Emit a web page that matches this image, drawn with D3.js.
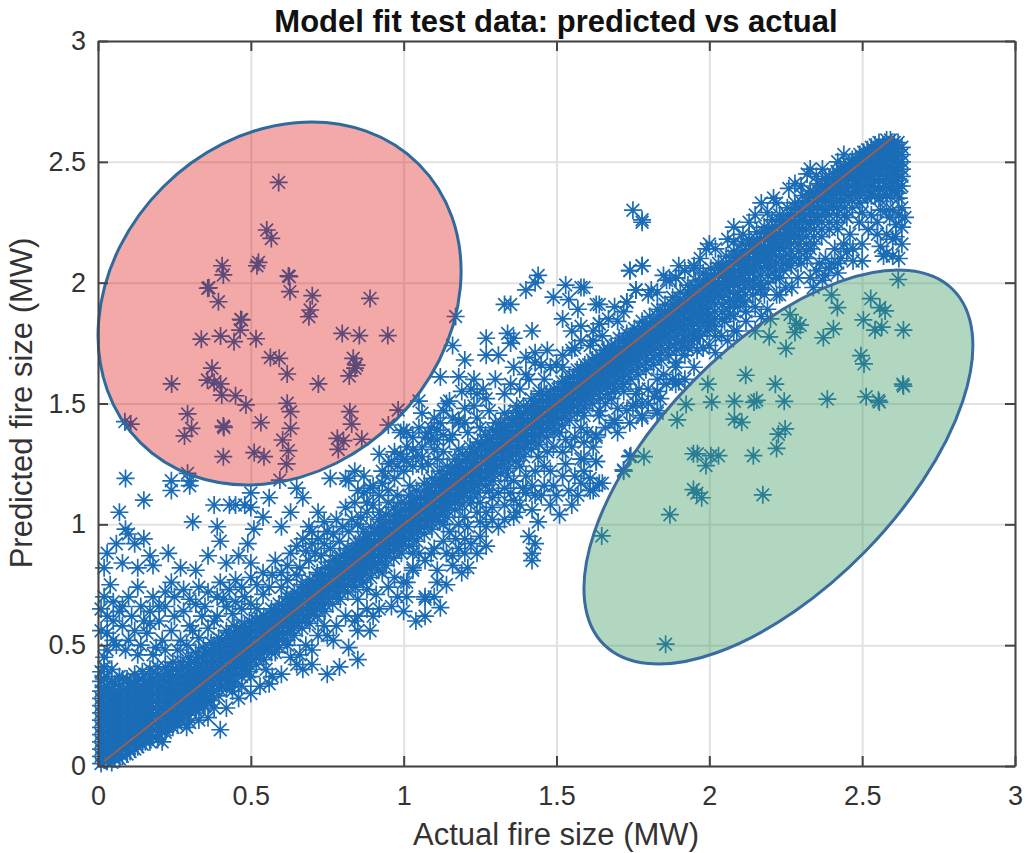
<!DOCTYPE html>
<html>
<head>
<meta charset="utf-8">
<script src="https://cdn.jsdelivr.net/npm/d3@7"></script>
<style>
    body { margin: 0; background: #fff; }
    text { font-family: "Liberation Sans", Arial, sans-serif; }
</style>
</head>
<body>
<svg width="1029" height="853"></svg>
<script>
let tick_values = [0, 0.5, 1, 1.5, 2, 2.5, 3]
let title_text = 'Model fit test data: predicted vs actual'
let x_label_text = 'Actual fire size (MW)'
let y_label_text = 'Predicted fire size (MW)'
let fit_line = [0.02, 2.6]

// [actual, predicted]
let red_zone_points = [[.591,2.415],[.552,2.218],[.567,2.183],[.406,2.07],[.41,2.032],[.525,2.084],[.52,2.07],[.623,2.028],[.626,2.025],[.628,1.963],[.359,1.977],[.363,1.979],[.394,1.921],[.701,1.946],[.694,1.887],[.69,1.859],[.89,1.935],[.467,1.848],[.47,1.846],[.465,1.804],[.338,1.766],[.401,1.779],[.445,1.756],[.517,1.768],[.799,1.79],[.855,1.781],[.948,1.781],[.564,1.69],[.593,1.687],[.619,1.622],[.835,1.687],[.846,1.659],[.841,1.646],[.822,1.614],[.721,1.581],[.241,1.581],[.373,1.646],[.358,1.597],[.38,1.586],[.401,1.581],[.405,1.535],[.45,1.532],[.484,1.494],[.619,1.501],[.63,1.466],[.293,1.457],[.306,1.397],[.283,1.366],[.41,1.407],[.412,1.401],[.533,1.421],[.63,1.397],[.604,1.349],[.623,1.305],[.617,1.25],[.41,1.28],[.511,1.297],[.543,1.28],[.824,1.466],[.83,1.415],[.783,1.356],[.803,1.346],[.786,1.31],[.863,1.352],[.107,1.415],[.088,1.425],[.982,1.473],[.95,1.411],[.293,1.211],[.595,1.183]]

let green_zone_points = [[2.618,2.013],[2.528,1.934],[2.558,1.897],[2.575,1.883],[2.4,1.949],[2.419,1.897],[2.504,1.846],[2.542,1.804],[2.564,1.816],[2.635,1.804],[2.406,1.809],[2.373,1.772],[2.284,1.831],[2.297,1.824],[2.28,1.794],[2.264,1.868],[2.196,1.776],[2.251,1.728],[2.496,1.698],[2.506,1.664],[2.119,1.617],[2.216,1.58],[1.995,1.58],[2.008,1.506],[1.924,1.496],[2.082,1.509],[2.155,1.513],[2.146,1.506],[2.245,1.509],[2.386,1.518],[2.513,1.528],[2.553,1.513],[2.556,1.506],[2.633,1.58],[2.635,1.572],[1.895,1.432],[2.082,1.435],[2.106,1.422],[2.248,1.395],[2.226,1.373],[2.22,1.314],[1.948,1.292],[1.961,1.292],[1.989,1.243],[2.005,1.284],[2.03,1.284],[2.144,1.284],[1.786,1.28],[1.743,1.284],[1.719,1.225],[1.948,1.144],[1.959,1.129],[1.975,1.11],[2.175,1.122],[1.871,1.04],[1.648,.952],[1.857,.504]]

let upper_points = [[.09,1.19],[.24,1.18],[.24,1.14],[.3,1.18],[.3,1.16],[.15,1.1],[.38,1.08],[.43,1.08],[.45,1.08],[.48,1.08],[.5,1.07],[.5,1.13],[.56,1.11],[.65,1.15],[.67,1.11],[.76,1.19],[.81,1.19],[.84,1.22],[.87,1.2],[.87,1.13],[.88,1.09],[.81,1.07],[.92,1.29],[.96,1.26],[.99,1.38],[1.06,1.46],[.07,1.05],[.09,.98],[.1,.96],[.31,1.01],[.39,.99],[.51,.98],[.54,1.03],[.63,1.05],[.6,.99],[.72,1.05],[.74,1.01],[.69,.99],[.67,.94],[.72,.94],[.65,.91],[.4,.93],[.49,.92],[.46,.87],[.06,.92],[.15,.94],[.12,.92],[.03,.88],[.17,.87],[.02,.82],[.08,.84],[.13,.82],[.18,.83],[.23,.88],[.36,.87],[.42,.84],[.32,.81],[.27,.82],[.4,.76],[.5,.84],[.58,.85],[.54,.8],[.62,.83],[.65,.79],[.24,.76],[.28,.73],[.22,.72],[.33,.74],[.45,.77],[.54,.71],[.41,.69],[.48,.7],[.05,.68],[.07,.64],[.01,.65],[.17,.64],[.2,.6],[.15,.6],[.24,.56],[.08,.58],[.01,.56],[.19,.49],[.16,.55],[.1,.52],[.3,.58],[.34,.62],[.39,.62],[.44,.63],[.27,.52],[.02,.45],[.25,.7],[.3,.69],[.35,.66],[.06,.5],[.13,.46],[.22,.48],
    [1.44,2.03],[1.4,1.97],[1.43,2],[1.33,1.91],[1.35,1.91],[1.53,1.99],[1.58,1.98],[1.49,1.94],[1.57,1.89],[1.54,1.93],[1.63,1.91],[1.52,1.85],[1.55,1.8],[1.73,1.92],[1.76,1.97],[1.74,2.05],[1.78,2.07],[1.86,2.01],[1.89,2.02],[1.95,2.06],[1.64,1.83],[1.27,1.77],[1.34,1.79],[1.36,1.77],[1.42,1.8],[1.35,1.75],[1.17,1.86],[1.16,1.74],[1.27,1.7],[1.31,1.7],[1.2,1.68],[1.12,1.61],[1.18,1.61],[1.23,1.6],[1.36,1.65],[1.4,1.69],[1.43,1.67],[1.47,1.72],[1.48,1.65],[1.41,1.6],[1.56,1.73],[1.61,1.74],[1.52,1.65],[1.24,1.54],[1.15,1.51],[1.05,1.51],[1.13,1.47],[1.18,1.43],[1.24,1.44],[1.28,1.47],[1.37,1.49],[1.01,1.38],[1.08,1.38],[1.11,1.35],[1.05,1.4],[1,1.27],[1.03,1.24],[1.11,1.27],[1.18,1.31],[1.02,1.16],[1.09,1.4],[1.15,1.35],
    [1.14,1.5],[1.18,1.42],[1,1.39],[1.11,1.39],[1.09,1.35],[.99,1.29],[1.06,1.32],[.95,1.25],[.82,1.18],[.9,1.16],[.94,1.2],[1.06,1.24],
    [1.75,2.3],[1.78,2.25],[1.78,2.26],[2.32,2.45],[2.28,2.41],[2.21,2.35],[2.15,2.28],[2.19,2.29],[1.99,2.14],[1.95,2.07],[1.87,2.01],[1.89,2.02],[1.74,2.05],[1.78,2.07],[1.76,1.97],[1.73,1.92],[1.64,1.91],[1.59,1.98],[1.64,1.83],[2.11,2.2],[2.42,2.5],[2.08,2.17],[2.44,2.53],
    [.03,.48],[.05,.52],[.03,.55],[.05,.6],[.09,.48],[.12,.56],[.18,.46],[.21,.52],[.14,.5],[.17,.59],[.11,.62],[.03,.62],[.08,.66],[.14,.66],[.2,.66],[.18,.7],[.26,.48],[.29,.5],[.33,.53],[.31,.56],[.36,.57],[.38,.6],[.42,.66],[.45,.68],[.47,.65],[.5,.67],[.52,.65],[.56,.74],[.6,.74],[.62,.77],[.66,.82],[.69,.85],[.71,.88],[.74,.92],[.77,.96],[.8,.99],[.83,1.02],[.86,1.03],[.9,1.08],[.76,.9],[.7,.92],[.78,1.02],[.84,1.09],[.92,1.12],[.95,1.14],[.97,1.19],[1,1.22],[.93,1.22],[.97,1.3],[1.01,1.32],[1.04,1.28],[1.08,1.25],[1.13,1.3],[1.16,1.37],[1.21,1.38],[1.25,1.4],[1.3,1.42],[1.33,1.46],[1.2,1.48],[1.1,1.44],[1.26,1.56],[1.3,1.6],[1.38,1.56],[1.46,1.6],[1.5,1.66],[1.45,1.55],[1.58,1.82],[1.62,1.76],[1.65,1.78],[1.7,1.84],[1.72,1.88],[1.83,1.96],[1.81,1.97],[1.92,2.05],[1.97,2.1],[2.02,2.14],[2.06,2.18],[2.13,2.25],[2.22,2.33],[2.3,2.4],[2.35,2.44],[2.37,2.47],
    [.1,.7],[.13,.74],[.04,.75],[.02,.7],[.25,.62],[.22,.66],[.28,.64],[.32,.67],[.36,.72],[.39,.7],[.43,.73],[.47,.74],[.5,.78],[.52,.75],[.57,.79],[.6,.8],[.63,.88],[.68,.89],[.7,.97],[.75,.97],[.73,.87],[.79,.93],[.82,.97],[.85,1],[.88,1.05],[.92,1.05],[.95,1.09],[.98,1.12],[.89,1.15],[.85,1.14],[.93,1.17],[.98,1.24],[1.01,1.26],[1.03,1.31],[1.06,1.28],[1.1,1.31],[1.13,1.37],[1.07,1.36],[1.03,1.36],[1.12,1.42],[1.16,1.44],[1.2,1.42],[1.23,1.49],[1.27,1.52],[1.19,1.55],[1.22,1.56],[1.33,1.54],[1.35,1.58],[1.4,1.62],[1.45,1.66],[1.43,1.71],[1.52,1.7],[1.55,1.72],[1.58,1.76],[1.62,1.8],[1.67,1.85],[1.69,1.9],[1.8,1.95],[1.85,2.03],[1.9,2.07],[2,2.16],[2.08,2.23],[2.17,2.33],[2.26,2.39],[2.33,2.47]]

let lower_points = [[.4,.15],[.38,.24],[.33,.19],[.26,.17],[.29,.16],[.21,.1],[.35,.25],[.44,.31],[.47,.33],[.53,.33],[.56,.34],[.6,.38],[.67,.4],[.7,.42],[.75,.38],[.79,.41],[.85,.44],[.82,.49],[.58,.47],[.63,.45],[.68,.5],[.75,.54],[.74,.58],[.85,.56],[.89,.56],[.92,.65],[.88,.65],[.81,.62],[.85,.69],[1,.64],[1.04,.6],[1.07,.69],[1.01,.7],[1.01,.76],[1.03,.82],[.91,.71],
    [1.12,.655],[1.07,.7],[1.11,.76],[1.11,.81],[1.03,.81],[1,.76],[1.19,.8],[1.21,.82],[1.16,.87],[1.27,.91],[1.31,.99],[1.27,1.05],[1.22,1.09],[1.36,1.03],[1.44,1.01],[1.41,.95],[1.43,.92],[1.42,.88],[1.42,.85],[1.38,1.08],[1.48,1.08],[1.51,1.04],[1.55,1.08],[1.54,1.14],[1.61,1.14],[1.64,1.17],[1.63,1.26],[1.58,1.27],[1.72,1.22],[1.74,1.28],[1.63,1.36],[1.83,1.47],[1.78,1.44],[1.69,1.42],[1.75,1.49],[1.64,1.47],[1.59,1.45],[1.51,1.38],[1.4,1.13],[1.28,1.14],[1.34,1.2],[1.4,1.2],[1.46,1.24],[1.53,1.25],[1.49,1.16],[1.09,.88],[1.21,.99],[1.25,.95],[1.13,1],[1.17,.94],[1.05,.88],[1.29,1.07],[1.55,1.32],[1.69,1.56],[1.77,1.56],[1.89,1.58],[1.91,1.74],[1.89,1.67],[1.95,1.78],
    [2.63,2.31],[2.61,2.24],[2.63,2.23],[2.61,2.19],[2.63,2.16],[2.62,2.1],[2.57,2.11],[2.6,2.11],[2.59,2.27],[2.58,2.3],[2.52,2.22],[2.5,2.29],[2.5,2.16],[2.5,2.09],[2.45,2.13],[2.44,2.16],[2.38,2.1],[2.42,2.08],[2.41,2.14],[2.36,2.08],[2.45,2.27],[2.34,1.98],[2.37,2.01],[2.42,2.04],[2.33,2.14],[2.29,2.16],[2.27,2.1],[2.22,2.08],[2.23,2.02],[2.27,1.98],[2.19,2.07],[2.1,1.93],[2.12,1.88],[2.19,1.89],[2.09,1.8],[2.15,1.8],[2.06,1.76],[1.95,1.77],[1.98,1.73],[1.93,1.73],[2.02,1.71],[1.89,1.65],[1.9,1.59],[1.95,1.65],[1.83,1.55],[1.83,1.46],[1.78,1.45],[1.76,1.54],[1.69,1.43],[1.64,1.45],[1.63,1.37],[1.72,1.55],[1.58,1.4],[1.59,1.27],[1.63,1.26],[1.62,1.14],[1.65,1.17],[1.61,1.19],[1.8,1.56],
    [1.1,.9],[1.13,.93],[1.15,.97],[1.18,1],[1.2,1.03],[1.24,1.05],[1.25,1.09],[1.29,1.11],[1.31,1.13],[1.33,1.08],[1.33,1.15],[1.36,1.18],[1.38,1.24],[1.42,1.16],[1.43,1.22],[1.44,1.28],[1.47,1.3],[1.49,1.32],[1.52,1.2],[1.56,1.2],[1.56,1.36],[1.59,1.34],[1.45,1.12],[1.36,1.1],[1.03,.88],[1.07,.85],[1.16,.83],[.97,.78],[.95,.74],[.93,.8],[.88,.73],[.85,.62],[.78,.58],[.72,.54],[.66,.46],[.62,.5],[.55,.4],[.5,.37],[.42,.24],[.32,.24],[.22,.15],[.27,.2],
    [1.66,1.5],[1.7,1.48],[1.73,1.47],[1.76,1.5],[1.8,1.5],[1.84,1.52],[1.68,1.52],[1.72,1.58],[1.85,1.62],[1.83,1.6],[1.92,1.7],[1.97,1.78],[2,1.82],[2.02,1.78],[2.05,1.84],[2.08,1.86],[2.15,1.9],[2.18,1.95],[2.22,1.95],[2.25,1.98],[2.17,1.98],[2.13,2],[2.1,2],[2,1.86],[1.98,1.9],[1.96,1.86],[2.08,1.92],[2.25,2.08],[2.3,2.08],[2.32,2.1],[2.35,2.05],[2.39,2.06],[2.43,2.1],[2.46,2.2],[2.42,2.22],[2.55,2.2],[2.58,2.2],[2.56,2.15],[2.6,2.3],[2.62,2.28],[2.55,2.25],[2.47,2.09],
    [1.14,.88],[1.18,.9],[1.2,.94],[1.22,.92],[1.24,.88],[1.27,.99],[1.29,1.02],[1.25,1.01],[1.33,1.02],[1.37,1.05],[1.39,1.15],[1.35,1.13],[1.42,1.06],[1.43,1.12],[1.46,1.16],[1.48,1.22],[1.5,1.12],[1.52,1.3],[1.57,1.12],[1.58,1.17],[1.59,1.22],[1.53,1.35],[1.6,1.38],[1.62,1.32],[1.66,1.4],[1.7,1.38],[1.74,1.42],[1.78,1.5],[1.82,1.53],[1.86,1.58],[1.88,1.6],[1.92,1.6],[1.96,1.72],[2,1.74],[2.04,1.78],[2.08,1.8],[2.12,1.84],[2.17,1.86],[2.2,1.85],[2.23,1.95],[2.29,2.02],[2.33,2.02],[2.38,2.03],[2.4,2.08],[2.47,2.14],[2.49,2.25],[2.53,2.28],[2.56,2.3],[2.6,2.18],[2.58,2.12],[2.64,2.27],[2.62,2.35],[1.07,.62],[1.1,.7],[1.14,.75],[1.2,.88],[.98,.7],[.96,.66],[.9,.62],[.84,.6],[.77,.52],[.7,.48],[.65,.42],[.57,.37],[.5,.3],[.46,.28],[.36,.2],[.3,.18]]

// dense part along the diagonal: one actual value, the predicted values seen above it
let band_actual = [.01,.03,.055,.08,.105,.13,.155,.18,.205,.23,.255,.28,.305,.33,.355,.38,.405,.43,.455,.48,.505,.53,.555,.58,.605,.63,.655,.68,.705,.73,.755,.78,.805,.83,.855,.88,.905,.93,.955,.98,1.005,1.03,1.055,1.08,1.105,1.13,1.155,1.18,1.205,1.23,1.255,1.28,1.305,1.33,1.355,1.38,1.405,1.43,1.455,1.48,1.505,1.53,1.555,1.58,1.605,1.63,1.655,1.68,1.705,1.73,1.755,1.78,1.805,1.83,1.855,1.88,1.905,1.93,1.955,1.98,2.005,2.03,2.055,2.08,2.105,2.13,2.155,2.18,2.205,2.23,2.255,2.28,2.305,2.33,2.355,2.38,2.405,2.43,2.455,2.48,2.505,2.53,2.555,2.58,2.605,2.63]
let band_predicted = [
    [.01,.04,.07,.1,.13,.16,.19,.22,.25,.28,.31,.35,.39],[.02,.05,.08,.11,.14,.17,.2,.23,.26,.29,.33,.37],[.03,.06,.09,.12,.15,.18,.21,.24,.27,.3,.34],[.04,.07,.1,.13,.16,.19,.22,.25,.28,.31,.36],[.06,.09,.12,.15,.18,.21,.24,.27,.3,.34],[.08,.11,.14,.17,.2,.23,.26,.29,.32,.35],[.1,.13,.16,.19,.22,.25,.28,.31,.34],[.12,.15,.18,.21,.24,.27,.3,.33,.36],[.15,.18,.21,.24,.27,.3,.33,.37],[.17,.2,.23,.26,.29,.32,.35,.38],[.19,.22,.25,.28,.31,.34,.37,.4],[.22,.25,.28,.31,.34,.37,.41],[.24,.27,.3,.33,.36,.39,.43],[.26,.29,.32,.35,.38,.41,.45],[.28,.31,.34,.37,.4,.43,.47],[.31,.34,.37,.4,.43,.46,.5],[.33,.36,.39,.42,.45,.48,.52],[.35,.38,.41,.44,.47,.5,.53],[.38,.41,.44,.47,.5,.53,.56],[.4,.43,.46,.49,.52,.55,.58],[.44,.47,.5,.53,.56,.59],
    [.47,.5,.53,.56,.59,.61],[.49,.52,.55,.58,.61],[.52,.55,.58,.61,.64],[.54,.57,.6,.63,.66],[.57,.6,.63,.66,.69],[.59,.62,.65,.68,.71],[.62,.65,.68,.71,.74],[.64,.67,.7,.73,.76],[.67,.7,.73,.76,.79],[.69,.72,.75,.78,.82],[.72,.75,.78,.81,.85],[.74,.77,.8,.83,.87],[.77,.8,.83,.86,.89],[.79,.82,.85,.88,.92],[.82,.85,.88,.91,.94],[.84,.87,.9,.93,.97],[.87,.9,.93,.96,.99],[.89,.92,.95,.98,1.01],[.92,.95,.98,1.01,1.04],[.94,.97,1,1.03,1.06],[.97,1,1.03,1.06,1.09],[.99,1.02,1.05,1.08,1.11],[1.02,1.05,1.08,1.11,1.14],[1.04,1.07,1.1,1.13,1.17],[1.07,1.1,1.13,1.16,1.19],[1.09,1.12,1.15,1.18,1.22],[1.12,1.15,1.18,1.21,1.24],[1.14,1.17,1.2,1.23,1.27],[1.17,1.2,1.23,1.26,1.3],[1.19,1.22,1.25,1.28,1.33],[1.22,1.25,1.28,1.31,1.35],[1.24,1.27,1.3,1.33,1.38],[1.27,1.3,1.33,1.36,1.4],[1.29,1.32,1.35,1.38,1.43],[1.32,1.35,1.38,1.41,1.45],[1.34,1.37,1.4,1.43,1.47],[1.37,1.4,1.43,1.46,1.49],[1.39,1.42,1.45,1.48,1.51],[1.42,1.45,1.48,1.51,1.54],[1.44,1.47,1.5,1.53,1.56],[1.47,1.5,1.53,1.56,1.59],[1.49,1.52,1.55,1.58,1.61],[1.52,1.55,1.58,1.61,1.64],[1.54,1.57,1.6,1.63,1.66],[1.57,1.6,1.63,1.66,1.69],[1.59,1.62,1.65,1.68,1.72],[1.62,1.65,1.68,1.71,1.74],[1.64,1.67,1.7,1.73,1.77],[1.67,1.7,1.73,1.76,1.79],[1.69,1.72,1.75,1.78,1.81],[1.72,1.75,1.78,1.81,1.84],[1.74,1.77,1.8,1.83,1.86],[1.76,1.79,1.83,1.86,1.89],[1.78,1.82,1.85,1.88,1.91],[1.81,1.84,1.88,1.91,1.94],[1.83,1.87,1.9,1.93,1.96],[1.85,1.89,1.93,1.96,1.99],[1.88,1.92,1.95,1.98,2.01],[1.9,1.94,1.98,2.01,2.04],[1.93,1.97,2,2.03,2.06],[1.95,1.99,2.03,2.06,2.08],[1.98,2.02,2.05,2.08,2.11],[2,2.04,2.08,2.11,2.13],[2.03,2.07,2.1,2.13,2.16],[2.05,2.09,2.13,2.16,2.18],[2.08,2.12,2.15,2.18,2.21],[2.1,2.14,2.18,2.21,2.23],[2.13,2.17,2.2,2.23,2.26],[2.15,2.19,2.23,2.26,2.28],[2.18,2.22,2.25,2.28,2.31],[2.2,2.24,2.28,2.31,2.33],[2.22,2.26,2.3,2.33,2.36],[2.25,2.29,2.33,2.36,2.38],[2.27,2.31,2.35,2.38,2.41],[2.3,2.34,2.37,2.4,2.43],[2.32,2.36,2.39,2.42,2.45],[2.34,2.38,2.41,2.44,2.47],[2.36,2.4,2.43,2.46,2.49],[2.38,2.42,2.45,2.48,2.51],[2.4,2.43,2.46,2.49,2.52,2.54],[2.36,2.4,2.44,2.47,2.5,2.53,2.56],[2.35,2.39,2.43,2.47,2.5,2.53,2.56,2.58],[2.36,2.4,2.44,2.47,2.5,2.53,2.56,2.59],[2.38,2.42,2.46,2.5,2.53,2.56,2.58],[2.4,2.44,2.47,2.5,2.53,2.56]
]

// same band, the points sitting between those columns and out to its edges
let band_between_actual = [.02,.045,.07,.095,.12,.145,.17,.195,.22,.245,.27,.295,.32,.345,.37,.395,.42,.445,.47,.495,.5175,.5425,.5675,.5925,.6175,.6425,.6675,.6925,.7175,.7425,.7675,.7925,.8175,.8425,.8675,.8925,.9175,.9425,.9675,.9925,1.0175,1.0425,1.0675,1.0925,1.1175,1.1425,1.1675,1.1925,1.2175,1.2425,1.2675,1.2925,1.3175,1.3425,1.3675,1.3925,1.4175,1.4425,1.4675,1.4925,1.5175,1.5425,1.5675,1.5925,1.6175,1.6425,1.6675,1.6925,1.7175,1.7425,1.7675,1.7925,1.8175,1.8425,1.8675,1.8925,1.9175,1.9425,1.9675,1.9925,2.0175,2.0425,2.0675,2.0925,2.1175,2.1425,2.1675,2.1925,2.2175,2.2425,2.2675,2.2925,2.3175,2.3425,2.3675,2.3925,2.4175,2.4425,2.4675,2.4925,2.5175,2.5425,2.5675,2.5925,2.6175]
let band_between_predicted = [
    [.025,.055,.085,.115,.145,.175,.205,.235,.265,.295,.325,.36,.41],[.015,.045,.075,.105,.135,.165,.195,.225,.255,.285,.315,.35,.4],[.03,.06,.09,.12,.15,.18,.21,.24,.27,.3,.33,.37],[.05,.08,.11,.14,.17,.2,.23,.26,.29,.32,.36],[.07,.1,.13,.16,.19,.22,.25,.28,.31,.34,.38],[.09,.12,.15,.18,.21,.24,.27,.3,.33,.36,.39],[.1,.13,.16,.19,.22,.25,.28,.31,.34,.37,.4],[.11,.14,.17,.2,.23,.26,.29,.32,.35,.38,.41],[.14,.17,.2,.23,.26,.29,.32,.35,.38,.41],[.16,.19,.22,.25,.28,.31,.34,.37,.4,.43],[.19,.22,.25,.28,.31,.34,.37,.4,.43],[.21,.24,.27,.3,.33,.36,.39,.42,.45],[.23,.26,.29,.32,.35,.38,.41,.44,.47],[.25,.28,.31,.34,.37,.4,.43,.46,.49],[.27,.3,.33,.36,.39,.42,.45,.48,.51],[.29,.32,.35,.38,.41,.44,.47,.5,.53],[.32,.35,.38,.41,.44,.47,.5,.53,.56],[.34,.37,.4,.43,.46,.49,.52,.55,.58],[.37,.4,.43,.46,.49,.52,.55,.58],[.39,.42,.45,.48,.51,.54,.57,.6],
    [.42,.45,.48,.51,.54,.57,.6],[.44,.47,.5,.53,.56,.59,.62],[.47,.5,.53,.56,.59,.62,.65],[.49,.52,.55,.58,.61,.64,.67],[.52,.55,.58,.61,.64,.67,.7],[.54,.57,.6,.63,.66,.69,.72],[.57,.6,.63,.66,.69,.72,.75],[.59,.62,.65,.68,.71,.74,.77],[.62,.65,.68,.71,.74,.77,.8],[.64,.67,.7,.73,.76,.79,.82],[.67,.7,.73,.76,.79,.82,.85],[.69,.72,.75,.78,.81,.84,.87],[.72,.75,.78,.81,.84,.87,.9],[.74,.77,.8,.83,.86,.89,.92],[.76,.79,.82,.85,.88,.91,.94,.97],[.78,.81,.84,.87,.9,.93,.96,.99],[.81,.84,.87,.9,.93,.96,.99,1.02],[.83,.86,.89,.92,.95,.98,1.01,1.04],[.86,.89,.92,.95,.98,1.01,1.04,1.07],[.88,.91,.94,.97,1,1.03,1.06,1.09],[.91,.94,.97,1,1.03,1.06,1.09,1.12],[.93,.96,.99,1.02,1.05,1.08,1.11,1.14],[.96,.99,1.02,1.05,1.08,1.11,1.14,1.17],[.98,1.01,1.04,1.07,1.1,1.13,1.16,1.19],[1.01,1.04,1.07,1.1,1.13,1.16,1.19,1.22],[1.03,1.06,1.09,1.12,1.15,1.18,1.21,1.24],[1.06,1.09,1.12,1.15,1.18,1.21,1.24,1.27],[1.08,1.11,1.14,1.17,1.2,1.23,1.26,1.29],[1.11,1.14,1.17,1.2,1.23,1.26,1.29,1.32],[1.13,1.16,1.19,1.22,1.25,1.28,1.31,1.34],[1.16,1.19,1.22,1.25,1.28,1.31,1.34,1.37],[1.18,1.21,1.24,1.27,1.3,1.33,1.36,1.39],[1.21,1.24,1.27,1.3,1.33,1.36,1.39,1.42],[1.23,1.26,1.29,1.32,1.35,1.38,1.41,1.44],[1.26,1.29,1.32,1.35,1.38,1.41,1.44,1.47],[1.28,1.31,1.34,1.37,1.4,1.43,1.46,1.49],[1.31,1.34,1.37,1.4,1.43,1.46,1.49,1.52],[1.33,1.36,1.39,1.42,1.45,1.48,1.51,1.54],[1.36,1.39,1.42,1.45,1.48,1.51,1.54],[1.38,1.41,1.44,1.47,1.5,1.53,1.56],[1.41,1.44,1.47,1.5,1.53,1.56,1.59],[1.43,1.46,1.49,1.52,1.55,1.58,1.61],[1.46,1.49,1.52,1.55,1.58,1.61,1.64],[1.48,1.51,1.54,1.57,1.6,1.63,1.66],[1.5,1.53,1.56,1.59,1.62,1.65,1.68],[1.52,1.55,1.58,1.61,1.64,1.67,1.7],[1.54,1.57,1.6,1.63,1.66,1.69,1.72],[1.56,1.59,1.62,1.65,1.68,1.71,1.74],[1.58,1.61,1.64,1.67,1.7,1.73,1.76],[1.6,1.63,1.66,1.69,1.72,1.75,1.78],[1.62,1.65,1.68,1.71,1.74,1.77,1.8],[1.64,1.67,1.7,1.73,1.76,1.79,1.82],[1.66,1.69,1.72,1.75,1.78,1.81,1.84],[1.68,1.71,1.74,1.77,1.8,1.83,1.86],[1.7,1.73,1.76,1.79,1.82,1.85,1.88],[1.72,1.75,1.78,1.81,1.84,1.87,1.9],[1.74,1.77,1.8,1.83,1.86,1.89,1.92],[1.76,1.79,1.82,1.85,1.88,1.91,1.94,1.97],[1.78,1.81,1.84,1.87,1.9,1.93,1.96,1.99],[1.8,1.83,1.86,1.89,1.92,1.95,1.98,2.01],[1.82,1.85,1.88,1.91,1.94,1.97,2,2.03],[1.85,1.88,1.91,1.94,1.97,2,2.03,2.06],[1.87,1.9,1.93,1.96,1.99,2.02,2.05,2.08],[1.9,1.93,1.96,1.99,2.02,2.05,2.08,2.11],[1.92,1.95,1.98,2.01,2.04,2.07,2.1,2.13],[1.95,1.98,2.01,2.04,2.07,2.1,2.13,2.16],[1.97,2,2.03,2.06,2.09,2.12,2.15,2.18],[2,2.03,2.06,2.09,2.12,2.15,2.18,2.21],[2.02,2.05,2.08,2.11,2.14,2.17,2.2,2.23],[2.05,2.08,2.11,2.14,2.17,2.2,2.23,2.26],[2.07,2.1,2.13,2.16,2.19,2.22,2.25,2.28],[2.1,2.13,2.16,2.19,2.22,2.25,2.28,2.31],[2.13,2.16,2.19,2.22,2.25,2.28,2.31,2.34],[2.16,2.19,2.22,2.25,2.28,2.31,2.34,2.37],[2.19,2.22,2.25,2.28,2.31,2.34,2.37,2.4],[2.22,2.25,2.28,2.31,2.34,2.37,2.4,2.43],[2.25,2.28,2.31,2.34,2.37,2.4,2.43,2.46],[2.28,2.31,2.34,2.37,2.4,2.43,2.46,2.48],[2.31,2.34,2.37,2.4,2.43,2.46,2.49,2.51],[2.33,2.36,2.39,2.42,2.45,2.48,2.51,2.53],[2.35,2.38,2.41,2.44,2.47,2.5,2.53,2.55],[2.36,2.39,2.42,2.45,2.48,2.51,2.54,2.57],[2.36,2.39,2.42,2.45,2.48,2.51,2.54,2.57],[2.36,2.39,2.42,2.45,2.48,2.51,2.54,2.57,2.59],[2.37,2.4,2.43,2.46,2.49,2.52,2.55,2.58]
]

let svg = d3.select('svg')
let plot = { left: 98, right: 1015, top: 41, bottom: 766 }

let scale = {
    x: d3.scaleLinear().domain([0, 3]).range([plot.left, plot.right]),
    y: d3.scaleLinear().domain([0, 3]).range([plot.bottom, plot.top])
}

let tick_format = d => d

// Grid
svg.append('g')
    .attr('transform', `translate(0,${plot.bottom})`)
    .call(d3.axisBottom(scale.x).tickValues(tick_values).tickSize(plot.top - plot.bottom).tickFormat(''))
    .call(g => g.select('.domain').remove())
    .selectAll('line').attr('stroke', '#e2e2e2').attr('stroke-width', 2)

svg.append('g')
    .attr('transform', `translate(${plot.left},0)`)
    .call(d3.axisLeft(scale.y).tickValues(tick_values).tickSize(plot.left - plot.right).tickFormat(''))
    .call(g => g.select('.domain').remove())
    .selectAll('line').attr('stroke', '#e2e2e2').attr('stroke-width', 2)

// 8 armed star, the matlab '*' marker
let star = {
    draw(context, size) {
        let r = Math.sqrt(size)
        let d = r * Math.SQRT1_2
        context.moveTo(-r, 0); context.lineTo(r, 0)
        context.moveTo(0, -r); context.lineTo(0, r)
        context.moveTo(-d, -d); context.lineTo(d, d)
        context.moveTo(-d, d); context.lineTo(d, -d)
    }
}
let marker = d3.symbol().type(star).size(81)

let columns_to_points = (actual, predicted) => actual.flatMap((a, i) => predicted[i].map(p => [a, p]))
let all_points = [
    ...columns_to_points(band_actual, band_predicted),
    ...columns_to_points(band_between_actual, band_between_predicted),
    ...upper_points, ...lower_points, ...red_zone_points, ...green_zone_points
]

svg.append('g')
    .selectAll('.point')
    .data(all_points)
    .enter()
    .append('path')
    .attr('class', 'point')
    .attr('d', marker)
    .attr('transform', d => `translate(${scale.x(d[0])},${scale.y(d[1])})`)
    .attr('fill', 'none')
    .attr('stroke', '#1b6cb6')
    .attr('stroke-width', 1.7)

// Fit line
svg.append('line')
    .attr('x1', scale.x(fit_line[0]))
    .attr('y1', scale.y(fit_line[0]))
    .attr('x2', scale.x(fit_line[1]))
    .attr('y2', scale.y(fit_line[1]))
    .attr('stroke', '#a85c45')
    .attr('stroke-width', 1.8)

// Zones
svg.append('ellipse')
    .attr('rx', 196.9).attr('ry', 164.7)
    .attr('transform', `translate(${scale.x(0.594)},${scale.y(1.914)}) rotate(-45)`)
    .attr('fill', 'rgb(220,10,5)').attr('fill-opacity', 0.35)
    .attr('stroke', '#2f6a9c').attr('stroke-width', 3)

svg.append('ellipse')
    .attr('rx', 248.9).attr('ry', 121.1)
    .attr('transform', `translate(${scale.x(2.226)},${scale.y(1.237)}) rotate(-45.6)`)
    .attr('fill', 'rgb(62,155,97)').attr('fill-opacity', 0.4)
    .attr('stroke', '#3a6ca0').attr('stroke-width', 3)

// Axes
let axis_color = '#444'
let axis = {
    bottom: d3.axisBottom(scale.x).tickValues(tick_values).tickSizeInner(-10).tickSizeOuter(0).tickPadding(20).tickFormat(tick_format),
    left: d3.axisLeft(scale.y).tickValues(tick_values).tickSizeInner(-10).tickSizeOuter(0).tickPadding(12).tickFormat(tick_format),
    top: d3.axisTop(scale.x).tickValues(tick_values).tickSizeInner(-10).tickSizeOuter(0).tickFormat(''),
    right: d3.axisRight(scale.y).tickValues(tick_values).tickSizeInner(-10).tickSizeOuter(0).tickFormat('')
}

let draw_axis = (a, transform) => svg.append('g')
    .attr('transform', transform)
    .call(a)
    .call(g => g.selectAll('path,line').attr('stroke', axis_color).attr('stroke-width', 2))
    .call(g => g.selectAll('text').attr('fill', '#333').attr('font-size', 27).attr('font-family', '"Liberation Sans", Arial, sans-serif'))

draw_axis(axis.bottom, `translate(0,${plot.bottom})`)
draw_axis(axis.left, `translate(${plot.left},0)`)
draw_axis(axis.top, `translate(0,${plot.top})`)
draw_axis(axis.right, `translate(${plot.right},0)`)

// Title
svg.append('text')
    .attr('x', 556).attr('y', 32)
    .attr('text-anchor', 'middle')
    .attr('font-size', 31).attr('font-weight', 'bold').attr('fill', '#111')
    .text(title_text)

// X label
svg.append('text')
    .attr('x', 556).attr('y', 845)
    .attr('text-anchor', 'middle')
    .attr('font-size', 31).attr('fill', '#333')
    .text(x_label_text)

// Y label
svg.append('text')
    .attr('x', -403).attr('y', 32)
    .attr('text-anchor', 'middle')
    .attr('transform', 'rotate(270)')
    .attr('font-size', 31).attr('fill', '#333')
    .text(y_label_text)
</script>
</body>
</html>
